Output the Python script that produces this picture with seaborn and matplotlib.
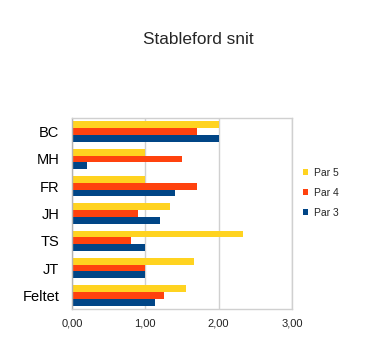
import matplotlib
matplotlib.use("Agg")
import matplotlib.pyplot as plt
import seaborn as sns
import pandas as pd
from matplotlib.ticker import FuncFormatter
from matplotlib.patches import Patch

players = ["BC", "MH", "FR", "JH", "TS", "JT", "Feltet"]
par5 = [2.00, 1.00, 1.00, 1.33, 2.33, 1.67, 1.55]
par4 = [1.70, 1.50, 1.70, 0.90, 0.80, 1.00, 1.26]
par3 = [2.00, 0.20, 1.40, 1.20, 1.00, 1.00, 1.13]
series = ["Par 5", "Par 4", "Par 3"]
colors = ["#FFD320", "#FF420E", "#004586"]
xticks = [0, 1, 2, 3]

rows = []
for name, vals in zip(series, [par5, par4, par3]):
    for p, v in zip(players, vals):
        rows.append({"Spiller": p, "Serie": name, "Snit": v})
df = pd.DataFrame(rows)

sns.set_theme(style="white")
plt.rcParams['font.family'] = ['Liberation Sans', 'DejaVu Sans']

fig = plt.figure(figsize=(3.66, 3.47), dpi=100)
ax = fig.add_axes([72/366, 1-309/347, (292-72)/366, (309-118)/347])

sns.barplot(data=df, y="Spiller", x="Snit", hue="Serie", order=players,
            hue_order=series, palette=colors, orient="h", width=0.75,
            saturation=1, ax=ax, legend=False, linewidth=0)

ax.set_xlim(0, 3)
ax.set_ylim(len(players)-0.5, -0.5)
ax.set_xticks(xticks)
ax.xaxis.set_major_formatter(FuncFormatter(lambda v, p: f"{v:.2f}".replace(".", ",")))
ax.set_xlabel("")
ax.set_ylabel("")
ax.grid(axis="x", color="#d0d0d0", linewidth=1)
ax.set_axisbelow(True)

for s in ["top", "right", "bottom"]:
    ax.spines[s].set_color("#d0d0d0")
    ax.spines[s].set_linewidth(1)
ax.spines["left"].set_color("#b3b3b3")
ax.spines["left"].set_linewidth(1)

ax.set_yticks([i for i in range(len(players))])
ax.set_yticklabels(players)
ax.tick_params(axis="y", length=0, labelsize=10.5, pad=9, colors="black")
ax.set_yticks([i - 0.5 for i in range(len(players)+1)], minor=True)
ax.tick_params(axis="y", which="minor", length=4, color="#b3b3b3", direction="out")
ax.tick_params(axis="x", length=4, color="#d0d0d0", direction="out", labelsize=8, pad=2.5, labelcolor="#222222")

fig.text(198/366, 1-39/347, "Stableford snit", ha="center", va="center", fontsize=12.4)

handles = [Patch(facecolor=c, edgecolor="none") for c in colors]
fig.legend(handles, series, loc="center left", bbox_to_anchor=(299/366, 1-193/347),
           frameon=False, fontsize=7.5, handlelength=0.5, handleheight=0.5,
           handletextpad=0.5, labelspacing=0.95, borderaxespad=0)

fig.savefig("out.png", dpi=100, facecolor="white")
